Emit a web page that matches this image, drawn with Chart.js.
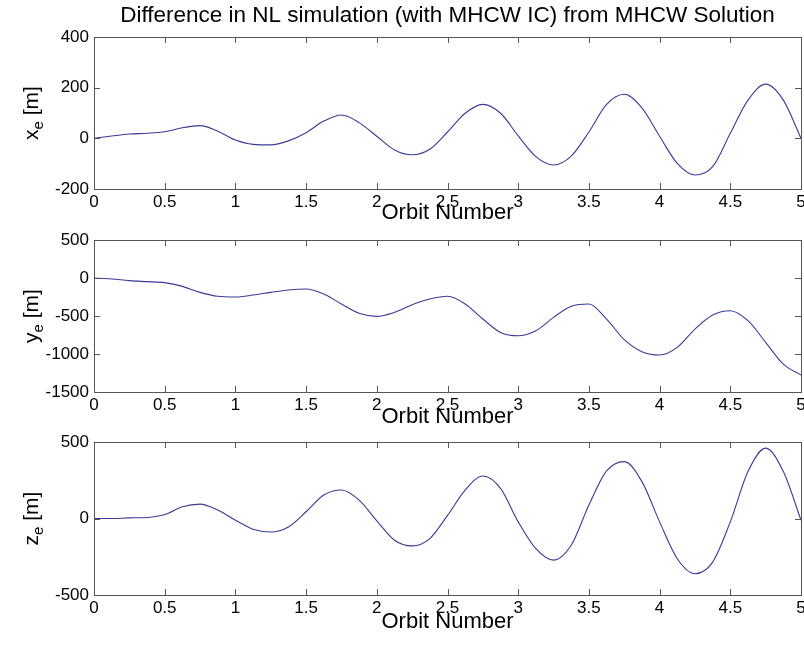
<!DOCTYPE html>
<html><head><meta charset="utf-8">
<script src="https://cdn.jsdelivr.net/npm/chart.js@4/dist/chart.umd.min.js"></script>
<style>
html,body{margin:0;padding:0;background:#fff}
body{width:804px;height:646px;position:relative;overflow:hidden}
canvas{position:absolute;left:0}
</style></head><body>
<canvas id="c1" width="804" height="230" style="top:0px"></canvas>
<canvas id="c2" width="804" height="202" style="top:230px"></canvas>
<canvas id="c3" width="804" height="214" style="top:432px"></canvas>
<script>
// ---- data ----
const orbit = [0,0.125,0.25,0.375,0.5,0.625,0.75,0.875,1,1.125,1.25,1.375,1.5,1.625,1.75,1.875,2,2.125,2.25,2.375,2.5,2.625,2.75,2.875,3,3.125,3.25,3.375,3.5,3.625,3.75,3.875,4,4.125,4.25,4.375,4.5,4.625,4.75,4.875,5];
const xe = [0,9,17,20,26,42,50,28,-7,-24,-26,-10,22,68,92,62,8,-46,-65,-43,25,99,134,99,10,-72,-105,-70,25,134,174,120,8,-99,-145,-112,20,151,214,151,0];
const ye = [0,-13,-35,-48,-61,-110,-189,-241,-250,-224,-189,-158,-145,-211,-342,-465,-505,-452,-351,-277,-241,-342,-540,-716,-760,-694,-518,-373,-342,-540,-812,-970,-1014,-913,-672,-487,-430,-562,-847,-1133,-1278];
const ze = [0,0,4,7,26,77,94,55,-11,-70,-88,-55,44,153,186,120,-15,-142,-179,-131,20,186,278,197,-22,-197,-272,-175,88,311,372,241,-22,-263,-361,-285,-22,307,460,307,-11];
const xTicks = {min:0, max:5, step:0.5};
const yTicks1 = {min:-200, max:400, step:200};
const yTicks2 = {min:-1500, max:500, step:500};
const yTicks3 = {min:-500, max:500, step:500};
const titleText = 'Difference in NL simulation (with MHCW IC) from MHCW Solution';
const xLabel = 'Orbit Number';
const yLabels = [['x','e',' [m]'],['y','e',' [m]'],['z','e',' [m]']];

const FONT = '"Liberation Sans", Arial, Helvetica, sans-serif';
const LINE = 'rgb(58,58,150)';

// inward tick marks + box, and subscripted y label
const boxPlugin = {
  id:'boxPlugin',
  afterDraw(chart, args, opts){
    const {ctx, chartArea:a, scales} = chart;
    ctx.save();
    ctx.strokeStyle = '#555'; ctx.lineWidth = 1;
    ctx.strokeRect(Math.round(a.left)+0.5, Math.round(a.top)+0.5, Math.round(a.right-a.left), Math.round(a.bottom-a.top));
    const L = 6;
    ctx.beginPath();
    scales.x.ticks.forEach(t=>{
      const px = Math.round(scales.x.getPixelForValue(t.value))+0.5;
      ctx.moveTo(px, a.top); ctx.lineTo(px, a.top+L);
      ctx.moveTo(px, a.bottom); ctx.lineTo(px, a.bottom-L);
    });
    scales.y.ticks.forEach(t=>{
      const py = Math.round(scales.y.getPixelForValue(t.value))+0.5;
      ctx.moveTo(a.left, py); ctx.lineTo(a.left+L, py);
      ctx.moveTo(a.right, py); ctx.lineTo(a.right-L, py);
    });
    ctx.stroke();
    // y label with subscript
    const [main, sub, rest] = opts.label;
    const cy = (a.top + a.bottom)/2;
    ctx.translate(opts.labelX, cy);
    ctx.rotate(-Math.PI/2);
    ctx.fillStyle = '#000';
    ctx.textBaseline = 'alphabetic';
    const fMain = '21px ' + FONT, fSub = '15px ' + FONT;
    ctx.font = fMain; const w1 = ctx.measureText(main).width; const w3 = ctx.measureText(rest).width;
    ctx.font = fSub; const w2 = ctx.measureText(sub).width;
    const x0 = -(w1+w2+w3)/2; const base = 7;
    ctx.font = fMain; ctx.fillText(main, x0, base);
    ctx.font = fSub; ctx.fillText(sub, x0+w1, base+5);
    ctx.font = fMain; ctx.fillText(rest, x0+w1+w2, base);
    ctx.restore();
  }
};

function makeChart(id, values, yt, o){
  const pts = orbit.map((t,i)=>({x:t, y:values[i]}));
  return new Chart(document.getElementById(id), {
    type:'line',
    data:{datasets:[{data:pts, borderColor:LINE, borderWidth:1.1, pointRadius:0, cubicInterpolationMode:'monotone', fill:false}]},
    options:{
      responsive:false, animation:false, events:[],
      layout:{padding:{top:o.padTop, bottom:o.padBottom, left:0, right:3}},
      plugins:{
        legend:{display:false}, tooltip:{enabled:false},
        title: o.title ? {display:true, text:o.title, fullSize:false, color:'#000',
          font:{family:FONT, size:22.5, weight:'normal', lineHeight:1.2}, padding:{top:2.5, bottom:37-2.5-27}} : {display:false},
        boxPlugin:{label:o.label, labelX:o.labelX}
      },
      scales:{
        x:{type:'linear', min:xTicks.min, max:xTicks.max,
          ticks:{stepSize:xTicks.step, color:'#000', padding:3, maxRotation:0, autoSkip:false, font:{family:FONT, size:17},
            callback:v=>String(v)},
          grid:{display:false, drawTicks:false}, border:{display:false},
          title:{display:true, text:xLabel, color:'#000', font:{family:FONT, size:22, lineHeight:1.2}, padding:{top:0, bottom:o.titlePadB}},
          afterFit(s){ s.height = o.hx; s.paddingLeft = 0; s.paddingRight = 0; }
        },
        y:{type:'linear', min:yt.min, max:yt.max,
          ticks:{stepSize:yt.step, color:'#000', padding:5, font:{family:FONT, size:17}, callback:v=>String(v)},
          grid:{display:false, drawTicks:false}, border:{display:false},
          afterFit(s){ s.width = 94; s.paddingTop = 0; s.paddingBottom = 0; }
        }
      }
    },
    plugins:[boxPlugin]
  });
}

// chart1: canvas 0..230, area 37..189
makeChart('c1', xe, yTicks1, {title:titleText, padTop:0, padBottom:230-189-40, hx:40, titlePadB:2.8, label:yLabels[0], labelX:31});
// chart2: canvas 230..432, area 240..392
makeChart('c2', ye, yTicks2, {padTop:240-230, padBottom:432-392-40, hx:40, titlePadB:1.8, label:yLabels[1], labelX:31});
// chart3: canvas 432..646, area 442..595
makeChart('c3', ze, yTicks3, {padTop:442-432, padBottom:646-595-42, hx:42, titlePadB:1.8, label:yLabels[2], labelX:31});
</script>
</body></html>
